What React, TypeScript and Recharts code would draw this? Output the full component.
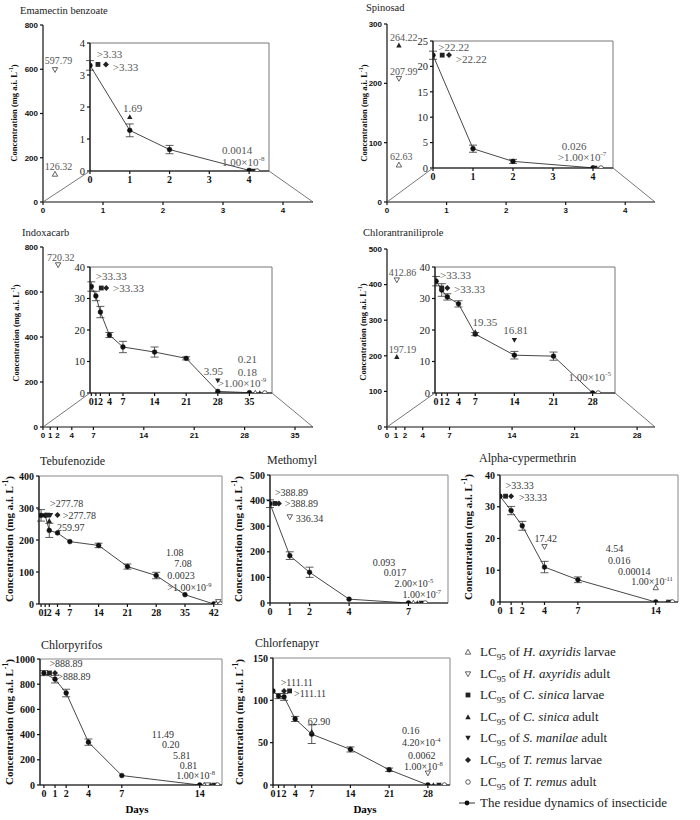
import React from 'react';
import { ComposedChart, XAxis, YAxis, Line, Scatter, ErrorBar, ReferenceArea } from 'recharts';

type Kind = 'hl' | 'ha' | 'cl' | 'ca' | 'sa' | 'tl' | 'ta';
type Res = { day: number; value: number; err: number };
type Mark = { day: number; value: number; kind: Kind };
type Note = { day: number; value: number; text: string };
type Box = [number, number, number, number];

const SERIF = '"Liberation Serif", "Times New Roman", serif';
const SANS = '"Liberation Sans", Arial, sans-serif';

// x ticks (days)
const days0to4 = [0, 1, 2, 3, 4];
const daysShort = [0, 1, 2, 4, 7];
const daysTwoWeeks = [0, 1, 2, 4, 7, 14];
const daysFourWeeks = [0, 1, 2, 4, 7, 14, 21, 28];
const daysFiveWeeks = [0, 1, 2, 4, 7, 14, 21, 28, 35];
const daysSixWeeks = [0, 1, 2, 4, 7, 14, 21, 28, 35, 42];

// y ticks
const y800 = [0, 200, 400, 600, 800];
const y300 = [0, 100, 200, 300];
const y500 = [0, 100, 200, 300, 400, 500];
const y400 = [0, 100, 200, 300, 400];
const y1000 = [0, 200, 400, 600, 800, 1000];
const y150 = [0, 50, 100, 150];
const y4 = [0, 1, 2, 3, 4];
const y25 = [0, 5, 10, 15, 20, 25];
const y40 = [0, 10, 20, 30, 40];

// Emamectin benzoate
const emaOuterMarks: Mark[] = [
  { day: 0.2, value: 597.79, kind: 'ha' },
  { day: 0.2, value: 126.32, kind: 'hl' },
];
const emaOuterNotes: Note[] = [
  { day: 0.03, value: 624, text: '597.79' },
  { day: 0.03, value: 145, text: '126.32' },
];
const emaResidue: Res[] = [
  { day: 0, value: 3.3, err: 0.15 },
  { day: 1, value: 1.27, err: 0.2 },
  { day: 2, value: 0.67, err: 0.13 },
  { day: 4, value: 0.02, err: 0 },
];
const emaMarks: Mark[] = [
  { day: 0.2, value: 3.33, kind: 'cl' },
  { day: 0.4, value: 3.33, kind: 'tl' },
  { day: 1, value: 1.69, kind: 'ca' },
  { day: 4.1, value: 0.0014, kind: 'sa' },
  { day: 4.2, value: 0, kind: 'ta' },
];
const emaNotes: Note[] = [
  { day: 0.17, value: 3.53, text: '>3.33' },
  { day: 0.57, value: 3.13, text: '>3.33' },
  { day: 0.83, value: 1.84, text: '1.69' },
  { day: 3.32, value: 0.53, text: '0.0014' },
  { day: 3.32, value: 0.16, text: '1.00×10^-8' },
];

// Spinosad
const spiOuterMarks: Mark[] = [
  { day: 0.2, value: 264.22, kind: 'ca' },
  { day: 0.2, value: 207.99, kind: 'ha' },
  { day: 0.2, value: 62.63, kind: 'hl' },
];
const spiOuterNotes: Note[] = [
  { day: 0.05, value: 271, text: '264.22' },
  { day: 0.05, value: 214, text: '207.99' },
  { day: 0.05, value: 71, text: '62.63' },
];
const spiResidue: Res[] = [
  { day: 0, value: 22.2, err: 0.8 },
  { day: 1, value: 3.8, err: 0.7 },
  { day: 2, value: 1.3, err: 0.4 },
  { day: 4, value: 0.03, err: 0 },
];
const spiMarks: Mark[] = [
  { day: 0.23, value: 22.22, kind: 'cl' },
  { day: 0.4, value: 22.22, kind: 'tl' },
  { day: 4.05, value: 0.026, kind: 'sa' },
  { day: 4.2, value: 0, kind: 'ta' },
];
const spiNotes: Note[] = [
  { day: 0.13, value: 23.0, text: '>22.22' },
  { day: 0.57, value: 20.7, text: '>22.22' },
  { day: 3.22, value: 3.5, text: '0.026' },
  { day: 3.12, value: 1.4, text: '>1.00×10^-7' },
];

// Indoxacarb
const indOuterMarks: Mark[] = [{ day: 2.1, value: 720.32, kind: 'ha' }];
const indOuterNotes: Note[] = [{ day: 0.55, value: 738, text: '720.32' }];
const indResidue: Res[] = [
  { day: 0, value: 33.8, err: 1.5 },
  { day: 1, value: 30.8, err: 1.5 },
  { day: 2, value: 25.7, err: 1.8 },
  { day: 4, value: 18.4, err: 0.8 },
  { day: 7, value: 14.6, err: 1.8 },
  { day: 14, value: 13.0, err: 1.6 },
  { day: 21, value: 11.0, err: 0.5 },
  { day: 28, value: 0.5, err: 0 },
  { day: 35, value: 0.1, err: 0 },
];
const indMarks: Mark[] = [
  { day: 2.2, value: 33.33, kind: 'cl' },
  { day: 3.3, value: 33.33, kind: 'tl' },
  { day: 28, value: 3.95, kind: 'sa' },
  { day: 36.3, value: 0, kind: 'hl' },
  { day: 37.3, value: 0, kind: 'ca' },
  { day: 38.4, value: 0, kind: 'ta' },
];
const indNotes: Note[] = [
  { day: 1.0, value: 35.9, text: '>33.33' },
  { day: 4.8, value: 32.1, text: '>33.33' },
  { day: 24.9, value: 5.7, text: '3.95' },
  { day: 32.4, value: 9.5, text: '0.21' },
  { day: 32.4, value: 5.4, text: '0.18' },
  { day: 28.0, value: 1.9, text: '>1.00×10^-9' },
];

// Chlorantraniliprole
const chlOuterMarks: Mark[] = [
  { day: 1.1, value: 412.86, kind: 'ha' },
  { day: 1.1, value: 197.19, kind: 'ca' },
];
const chlOuterNotes: Note[] = [
  { day: 0.2, value: 424, text: '412.86' },
  { day: 0.2, value: 208, text: '197.19' },
];
const chlResidue: Res[] = [
  { day: 0, value: 35.5, err: 1.5 },
  { day: 1, value: 32.7, err: 2 },
  { day: 2, value: 30.5, err: 1 },
  { day: 4, value: 28.3, err: 1 },
  { day: 7, value: 18.7, err: 0.5 },
  { day: 14, value: 12.0, err: 1.2 },
  { day: 21, value: 11.7, err: 1.3 },
  { day: 28, value: 0, err: 0 },
];
const chlMarks: Mark[] = [
  { day: 1, value: 33.33, kind: 'cl' },
  { day: 2, value: 33.33, kind: 'tl' },
  { day: 7, value: 19.35, kind: 'ca' },
  { day: 14, value: 16.81, kind: 'sa' },
  { day: 29, value: 0, kind: 'ta' },
];
const chlNotes: Note[] = [
  { day: 0.7, value: 36.2, text: '>33.33' },
  { day: 3.2, value: 31.7, text: '>33.33' },
  { day: 6.5, value: 21.3, text: '19.35' },
  { day: 12, value: 18.7, text: '16.81' },
  { day: 23.7, value: 3.8, text: '1.00×10^-5' },
];

// Tebufenozide
const tebResidue: Res[] = [
  { day: 0, value: 277, err: 18 },
  { day: 1, value: 277, err: 0 },
  { day: 2, value: 230, err: 22 },
  { day: 4, value: 222, err: 0 },
  { day: 7, value: 195, err: 0 },
  { day: 14, value: 183, err: 7 },
  { day: 21, value: 117, err: 8 },
  { day: 28, value: 89, err: 10 },
  { day: 35, value: 29, err: 0 },
  { day: 42, value: 0, err: 0 },
];
const tebMarks: Mark[] = [
  { day: 1.6, value: 277.78, kind: 'cl' },
  { day: 2.3, value: 277.78, kind: 'sa' },
  { day: 4, value: 277.78, kind: 'tl' },
  { day: 2, value: 259.97, kind: 'ca' },
  { day: 42.6, value: 1.08, kind: 'hl' },
  { day: 43.1, value: 7.08, kind: 'ha' },
  { day: 43.6, value: 0, kind: 'ta' },
];
const tebNotes: Note[] = [
  { day: 2.2, value: 303, text: '>277.78' },
  { day: 5.3, value: 266, text: '>277.78' },
  { day: 3.9, value: 228, text: '259.97' },
  { day: 30.4, value: 150, text: '1.08' },
  { day: 32.4, value: 116, text: '7.08' },
  { day: 30.7, value: 78, text: '0.0023' },
  { day: 30.7, value: 41, text: '>1.00×10^-9' },
];

// Methomyl
const metResidue: Res[] = [
  { day: 0, value: 388, err: 15 },
  { day: 1, value: 185, err: 15 },
  { day: 2, value: 120, err: 20 },
  { day: 4, value: 15, err: 0 },
  { day: 7, value: 0, err: 0 },
];
const metMarks: Mark[] = [
  { day: 0.25, value: 388.89, kind: 'cl' },
  { day: 0.45, value: 388.89, kind: 'tl' },
  { day: 1, value: 336.34, kind: 'ha' },
  { day: 7.25, value: 0, kind: 'hl' },
  { day: 7.45, value: 0, kind: 'ca' },
  { day: 7.65, value: 0, kind: 'sa' },
  { day: 7.85, value: 0, kind: 'ta' },
];
const metNotes: Note[] = [
  { day: 0.25, value: 418, text: '>388.89' },
  { day: 0.75, value: 375, text: '>388.89' },
  { day: 1.3, value: 316, text: '336.34' },
  { day: 5.2, value: 145, text: '0.093' },
  { day: 5.75, value: 105, text: '0.017' },
  { day: 6.3, value: 62, text: '2.00×10^-5' },
  { day: 6.7, value: 20, text: '1.00×10^-7' },
];

// Alpha-cypermethrin
const alpResidue: Res[] = [
  { day: 0, value: 33.3, err: 0 },
  { day: 1, value: 28.8, err: 1.3 },
  { day: 2, value: 24, err: 1.4 },
  { day: 4, value: 11, err: 1.8 },
  { day: 7, value: 7, err: 0.9 },
  { day: 14, value: 0, err: 0 },
];
const alpMarks: Mark[] = [
  { day: 0.5, value: 33.33, kind: 'cl' },
  { day: 1, value: 33.33, kind: 'tl' },
  { day: 4, value: 17.42, kind: 'ha' },
  { day: 14, value: 4.54, kind: 'hl' },
  { day: 15, value: 0, kind: 'ca' },
  { day: 15.25, value: 0, kind: 'sa' },
  { day: 15.5, value: 0, kind: 'ta' },
];
const alpNotes: Note[] = [
  { day: 0.5, value: 35.6, text: '>33.33' },
  { day: 1.7, value: 31.8, text: '>33.33' },
  { day: 3.1, value: 18.9, text: '17.42' },
  { day: 9.5, value: 15.6, text: '4.54' },
  { day: 9.7, value: 12.1, text: '0.016' },
  { day: 10.6, value: 8.6, text: '0.00014' },
  { day: 11.8, value: 5.4, text: '1.00×10^-11' },
];

// Chlorpyrifos
const cpfResidue: Res[] = [
  { day: 0, value: 888, err: 20 },
  { day: 1, value: 840, err: 30 },
  { day: 2, value: 730, err: 30 },
  { day: 4, value: 340, err: 25 },
  { day: 7, value: 75, err: 0 },
  { day: 14, value: 0, err: 0 },
];
const cpfMarks: Mark[] = [
  { day: 0.5, value: 888.89, kind: 'cl' },
  { day: 1, value: 888.89, kind: 'tl' },
  { day: 14.4, value: 0, kind: 'hl' },
  { day: 14.7, value: 0, kind: 'ha' },
  { day: 15, value: 0, kind: 'ca' },
  { day: 15.3, value: 0, kind: 'sa' },
  { day: 15.6, value: 0, kind: 'ta' },
];
const cpfNotes: Note[] = [
  { day: 0.5, value: 937, text: '>888.89' },
  { day: 1.2, value: 833, text: '>888.89' },
  { day: 9.7, value: 373, text: '11.49' },
  { day: 10.6, value: 294, text: '0.20' },
  { day: 11.6, value: 206, text: '5.81' },
  { day: 12.2, value: 127, text: '0.81' },
  { day: 11.9, value: 48, text: '1.00×10^-8' },
];

// Chlorfenapyr
const cfpResidue: Res[] = [
  { day: 0, value: 111, err: 0 },
  { day: 1, value: 105, err: 3 },
  { day: 2, value: 104, err: 4 },
  { day: 4, value: 78, err: 3 },
  { day: 7, value: 60, err: 11 },
  { day: 14, value: 42, err: 3 },
  { day: 21, value: 18, err: 2 },
  { day: 28, value: 0, err: 0 },
];
const cfpMarks: Mark[] = [
  { day: 2, value: 111.11, kind: 'tl' },
  { day: 3, value: 111.11, kind: 'cl' },
  { day: 7, value: 62.9, kind: 'ca' },
  { day: 28, value: 14, kind: 'ha' },
  { day: 29, value: 0, kind: 'ca' },
  { day: 30, value: 0, kind: 'sa' },
  { day: 31, value: 0, kind: 'ta' },
];
const cfpNotes: Note[] = [
  { day: 1.4, value: 117, text: '>111.11' },
  { day: 3.8, value: 104, text: '>111.11' },
  { day: 6.3, value: 71, text: '62.90' },
  { day: 23.3, value: 60, text: '0.16' },
  { day: 23.3, value: 46, text: '4.20×10^-4' },
  { day: 24.4, value: 31, text: '0.0062' },
  { day: 23.7, value: 18, text: '1.00×10^-8' },
];

const legendItems: { kind: Kind; genus: string; stage: string }[] = [
  { kind: 'hl', genus: 'H. axyridis', stage: 'larvae' },
  { kind: 'ha', genus: 'H. axyridis', stage: 'adult' },
  { kind: 'cl', genus: 'C. sinica', stage: 'larvae' },
  { kind: 'ca', genus: 'C. sinica', stage: 'adult' },
  { kind: 'sa', genus: 'S. manilae', stage: 'adult' },
  { kind: 'tl', genus: 'T. remus', stage: 'larvae' },
  { kind: 'ta', genus: 'T. remus', stage: 'adult' },
];

// plot boxes in page pixels [left, top, right, bottom]
const emaBox: Box = [43, 25, 313, 202];
const emaInset: Box = [90, 43, 269, 171];
const spiBox: Box = [387, 24, 655, 202];
const spiInset: Box = [433, 41, 613, 168];
const indBox: Box = [43, 247, 313, 427];
const indInset: Box = [90, 267, 272, 393];
const chlBox: Box = [387, 249, 655, 427];
const chlInset: Box = [435, 267, 615, 393];

const INK = '#222';

const Glyph = ({ kind, cx, cy }: { kind: Kind; cx: number; cy: number }) => {
  const s = 2.7;
  switch (kind) {
    case 'hl':
      return <polygon points={`${cx},${cy - s} ${cx + s},${cy + s * 0.8} ${cx - s},${cy + s * 0.8}`} fill="#fff" stroke={INK} strokeWidth={0.7} />;
    case 'ha':
      return <polygon points={`${cx},${cy + s} ${cx + s},${cy - s * 0.8} ${cx - s},${cy - s * 0.8}`} fill="#fff" stroke={INK} strokeWidth={0.7} />;
    case 'cl':
      return <rect x={cx - 2.4} y={cy - 2.4} width={4.8} height={4.8} fill={INK} />;
    case 'ca':
      return <polygon points={`${cx},${cy - s} ${cx + s},${cy + s * 0.8} ${cx - s},${cy + s * 0.8}`} fill={INK} />;
    case 'sa':
      return <polygon points={`${cx},${cy + s} ${cx + s},${cy - s * 0.8} ${cx - s},${cy - s * 0.8}`} fill={INK} />;
    case 'tl':
      return <polygon points={`${cx},${cy - 3} ${cx + 3},${cy} ${cx},${cy + 3} ${cx - 3},${cy}`} fill={INK} />;
    default:
      return <circle cx={cx} cy={cy} r={2.3} fill="#fff" stroke={INK} strokeWidth={0.7} />;
  }
};

const NoteText = ({ x, y, text, size, fill }: { x: number; y: number; text: string; size: number; fill: string }) => {
  const [base, sup] = text.split('^');
  return (
    <text x={x} y={y} fontFamily={SERIF} fontSize={size} fill={fill}>
      {base}
      {sup && (
        <tspan dy={-size * 0.42} fontSize={size * 0.65}>
          {sup}
        </tspan>
      )}
    </text>
  );
};

type PanelProps = {
  box: Box;
  xDomain: [number, number];
  xTicks: number[];
  yDomain: [number, number];
  yTicks: number[];
  residue?: Res[];
  marks: Mark[];
  notes: Note[];
  xTick: any;
  yTick: any;
  frame?: string;
  noteSize: number;
  noteFill: string;
  xh: number;
};

const YW = 40;
const TOP = 6;
const RIGHT = 6;

const Panel = (p: PanelProps) => {
  const [x0, y0, x1, y1] = p.box;
  const w = x1 - x0 + YW + RIGHT;
  const h = y1 - y0 + TOP + p.xh;
  const axis = { stroke: '#111', strokeWidth: 1.2 };
  return (
    <div style={{ position: 'absolute', left: x0 - YW, top: y0 - TOP }}>
      <ComposedChart width={w} height={h} data={p.residue ?? []} margin={{ top: TOP, right: RIGHT, left: 0, bottom: 0 }}>
        {p.frame && (
          <ReferenceArea
            x1={p.xDomain[0]}
            x2={p.xDomain[1]}
            y1={p.yDomain[0]}
            y2={p.yDomain[1]}
            fill="none"
            stroke={p.frame}
            strokeWidth={1}
            fillOpacity={0}
          />
        )}
        <XAxis
          type="number"
          dataKey="day"
          domain={p.xDomain}
          ticks={p.xTicks}
          interval={0}
          allowDataOverflow
          height={p.xh}
          tickSize={3}
          tick={p.xTick}
          axisLine={axis}
          tickLine={axis}
        />
        <YAxis
          type="number"
          dataKey="value"
          domain={p.yDomain}
          ticks={p.yTicks}
          interval={0}
          allowDataOverflow
          width={YW}
          tickSize={3}
          tick={p.yTick}
          axisLine={axis}
          tickLine={axis}
        />
        {p.residue && (
          <Line
            dataKey="value"
            stroke="#333"
            strokeWidth={0.9}
            dot={{ r: 2.4, fill: '#111', stroke: '#111', strokeWidth: 0.5 }}
            isAnimationActive={false}
          >
            <ErrorBar dataKey="err" width={4} stroke="#333" strokeWidth={0.8} direction="y" />
          </Line>
        )}
        <Scatter
          data={p.marks}
          dataKey="value"
          isAnimationActive={false}
          shape={(s: any) => <Glyph kind={s.payload.kind} cx={s.cx} cy={s.cy} />}
        />
        <Scatter
          data={p.notes}
          dataKey="value"
          isAnimationActive={false}
          shape={(s: any) => <NoteText x={s.cx} y={s.cy} text={s.payload.text} size={p.noteSize} fill={p.noteFill} />}
        />
      </ComposedChart>
    </div>
  );
};

const Title = ({ x, cy, size, text }: { x: number; cy: number; size: number; text: string }) => (
  <div style={{ position: 'absolute', left: x, top: cy - size / 2, fontSize: size, lineHeight: `${size}px`, fontFamily: SERIF, color: '#222', whiteSpace: 'nowrap' }}>
    {text}
  </div>
);

const YTitle = ({ cx, cy, size }: { cx: number; cy: number; size: number }) => (
  <div
    style={{
      position: 'absolute',
      left: cx,
      top: cy,
      transform: 'translate(-50%, -50%) rotate(-90deg)',
      fontSize: size,
      lineHeight: 1,
      fontFamily: SERIF,
      fontWeight: 700,
      color: '#111',
      whiteSpace: 'nowrap',
    }}
  >
    Concentration (mg a.i. L<sup style={{ fontSize: '0.7em', verticalAlign: 'super', lineHeight: 0 }}>-1</sup>)
  </div>
);

const outerTick = { fontSize: 8, fontFamily: SANS, fontWeight: 700, fill: '#111' };
const insetXTick = { fontSize: 10, fontFamily: SERIF, fontWeight: 700, fill: '#111' };
const insetYTick = { fontSize: 10.5, fontFamily: SERIF, fill: '#222' };
const lowTick = { fontSize: 10, fontFamily: SERIF, fontWeight: 700, fill: '#111' };

const links: [Box, Box][] = [
  [emaBox, emaInset],
  [spiBox, spiInset],
  [indBox, indInset],
  [chlBox, chlInset],
];

export default function App() {
  const outerNote = { noteSize: 10, noteFill: '#555' };
  const topNote = { noteSize: 11, noteFill: '#555' };
  const lowNote = { noteSize: 10, noteFill: '#333' };
  return (
    <div style={{ position: 'absolute', left: 0, top: 0, width: 700, height: 820, background: '#fff', fontFamily: SERIF }}>
      {/* top row with insets */}
      <Title x={20} cy={11} size={10.5} text="Emamectin benzoate" />
      <YTitle cx={14} cy={113} size={8.5} />
      <Panel box={emaBox} xDomain={[0, 4.5]} xTicks={days0to4} yDomain={[0, 800]} yTicks={y800} marks={emaOuterMarks} notes={emaOuterNotes} xTick={outerTick} yTick={outerTick} xh={14} {...outerNote} />
      <Panel box={emaInset} xDomain={[0, 4.5]} xTicks={days0to4} yDomain={[0, 4]} yTicks={y4} residue={emaResidue} marks={emaMarks} notes={emaNotes} xTick={insetXTick} yTick={insetYTick} frame="#777" xh={16} {...topNote} />

      <Title x={366} cy={8} size={10.5} text="Spinosad" />
      <YTitle cx={364} cy={113} size={8.5} />
      <Panel box={spiBox} xDomain={[0, 4.5]} xTicks={days0to4} yDomain={[0, 300]} yTicks={y300} marks={spiOuterMarks} notes={spiOuterNotes} xTick={outerTick} yTick={outerTick} xh={14} {...outerNote} />
      <Panel box={spiInset} xDomain={[0, 4.5]} xTicks={days0to4} yDomain={[0, 25]} yTicks={y25} residue={spiResidue} marks={spiMarks} notes={spiNotes} xTick={insetXTick} yTick={insetYTick} frame="#777" xh={16} {...topNote} />

      <Title x={22} cy={233} size={10.5} text="Indoxacarb" />
      <YTitle cx={16} cy={333} size={8.5} />
      <Panel box={indBox} xDomain={[0, 37.5]} xTicks={daysFiveWeeks} yDomain={[0, 800]} yTicks={y800} marks={indOuterMarks} notes={indOuterNotes} xTick={outerTick} yTick={outerTick} xh={14} {...outerNote} />
      <Panel box={indInset} xDomain={[-0.3, 40]} xTicks={daysFiveWeeks} yDomain={[0, 40]} yTicks={y40} residue={indResidue} marks={indMarks} notes={indNotes} xTick={insetXTick} yTick={insetYTick} frame="#777" xh={16} {...topNote} />

      <Title x={363} cy={233} size={10.5} text="Chlorantraniliprole" />
      <YTitle cx={363} cy={332} size={8.5} />
      <Panel box={chlBox} xDomain={[0, 30]} xTicks={daysFourWeeks} yDomain={[0, 500]} yTicks={y500} marks={chlOuterMarks} notes={chlOuterNotes} xTick={outerTick} yTick={outerTick} xh={14} {...outerNote} />
      <Panel box={chlInset} xDomain={[-0.2, 32]} xTicks={daysFourWeeks} yDomain={[0, 40]} yTicks={y40} residue={chlResidue} marks={chlMarks} notes={chlNotes} xTick={insetXTick} yTick={insetYTick} frame="#777" xh={16} {...topNote} />

      <svg width={700} height={820} style={{ position: 'absolute', left: 0, top: 0, pointerEvents: 'none' }}>
        {links.map(([o, i], k) => (
          <g key={k} stroke="#555" strokeWidth={0.8}>
            <line x1={o[0]} y1={o[3]} x2={i[0]} y2={i[3]} />
            <line x1={i[2]} y1={i[3]} x2={o[2]} y2={o[3]} />
          </g>
        ))}
      </svg>

      {/* lower panels */}
      <Title x={40} cy={461} size={12} text="Tebufenozide" />
      <YTitle cx={9} cy={539} size={11} />
      <Panel box={[39, 476, 222, 604]} xDomain={[-0.5, 44]} xTicks={daysSixWeeks} yDomain={[0, 400]} yTicks={y400} residue={tebResidue} marks={tebMarks} notes={tebNotes} xTick={lowTick} yTick={lowTick} frame="#888" xh={18} {...lowNote} />

      <Title x={267} cy={460} size={12} text="Methomyl" />
      <YTitle cx={238} cy={539} size={11} />
      <Panel box={[270, 475, 448, 603]} xDomain={[0, 9]} xTicks={daysShort} yDomain={[0, 500]} yTicks={y500} residue={metResidue} marks={metMarks} notes={metNotes} xTick={lowTick} yTick={lowTick} frame="#888" xh={18} {...lowNote} />

      <Title x={479} cy={458} size={12} text="Alpha-cypermethrin" />
      <YTitle cx={468} cy={537} size={11} />
      <Panel box={[500, 475, 678, 602]} xDomain={[0, 16]} xTicks={daysTwoWeeks} yDomain={[0, 40]} yTicks={y40} residue={alpResidue} marks={alpMarks} notes={alpNotes} xTick={lowTick} yTick={lowTick} frame="#888" xh={18} {...lowNote} />

      <Title x={41} cy={645} size={12} text="Chlorpyrifos" />
      <YTitle cx={9} cy={722} size={11} />
      <Panel box={[40, 659, 222, 785]} xDomain={[-0.35, 16]} xTicks={daysTwoWeeks} yDomain={[0, 1000]} yTicks={y1000} residue={cpfResidue} marks={cpfMarks} notes={cpfNotes} xTick={lowTick} yTick={lowTick} frame="#888" xh={18} {...lowNote} />
      <div style={{ position: 'absolute', left: 137, top: 809, transform: 'translate(-50%, -50%)', fontSize: 11, fontWeight: 700, fontFamily: SERIF }}>Days</div>

      <Title x={255} cy={643} size={12} text="Chlorfenapyr" />
      <YTitle cx={239} cy={722} size={11} />
      <Panel box={[273, 658, 450, 785]} xDomain={[0, 32]} xTicks={daysFourWeeks} yDomain={[0, 150]} yTicks={y150} residue={cfpResidue} marks={cfpMarks} notes={cfpNotes} xTick={lowTick} yTick={lowTick} frame="#888" xh={18} {...lowNote} />
      <div style={{ position: 'absolute', left: 365, top: 809, transform: 'translate(-50%, -50%)', fontSize: 11, fontWeight: 700, fontFamily: SERIF }}>Days</div>

      {/* legend */}
      {legendItems.map((it, k) => (
        <div key={k} style={{ position: 'absolute', left: 462, top: 652 + k * 21.6 - 8, height: 16, display: 'flex', alignItems: 'center', fontSize: 13, fontFamily: SERIF, color: '#222', whiteSpace: 'nowrap' }}>
          <svg width={12} height={12} style={{ marginRight: 6 }}>
            <Glyph kind={it.kind} cx={6} cy={6} />
          </svg>
          <span>
            LC<sub style={{ fontSize: '0.7em', lineHeight: 0 }}>95</sub> of <i>{it.genus}</i> {it.stage}
          </span>
        </div>
      ))}
      <div style={{ position: 'absolute', left: 458, top: 803 - 8, height: 16, display: 'flex', alignItems: 'center', fontSize: 13, fontFamily: SERIF, color: '#222', whiteSpace: 'nowrap' }}>
        <svg width={18} height={12} style={{ marginRight: 4 }}>
          <line x1={1} y1={6} x2={17} y2={6} stroke="#333" strokeWidth={1} />
          <circle cx={9} cy={6} r={2.4} fill="#111" />
        </svg>
        <span>The residue dynamics of insecticide</span>
      </div>
    </div>
  );
}
